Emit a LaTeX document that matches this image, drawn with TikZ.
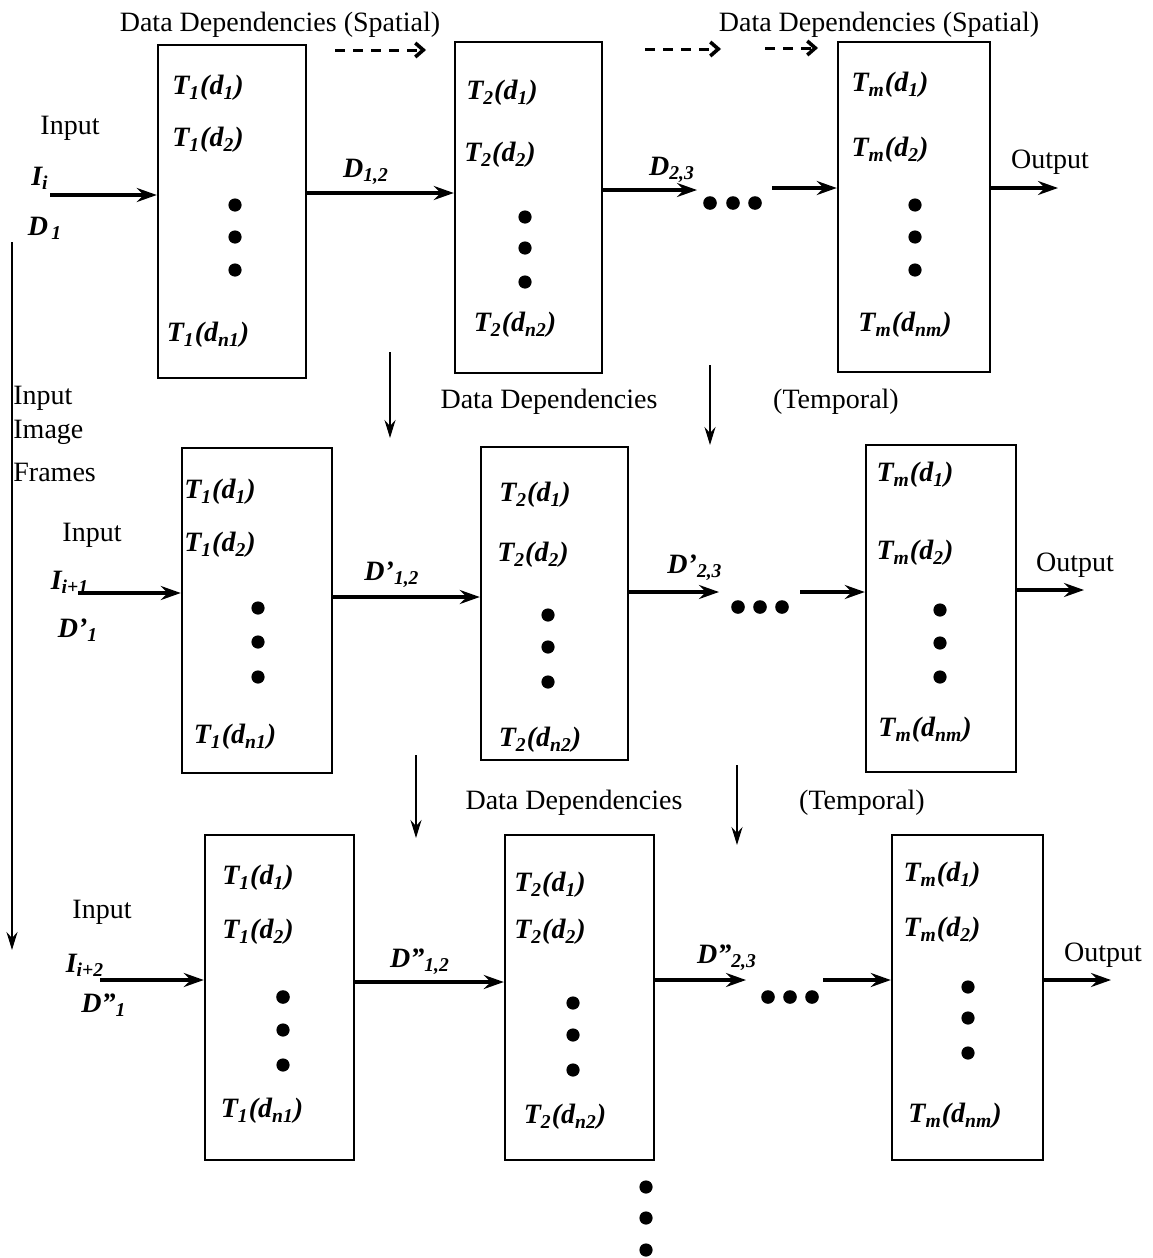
\documentclass[tikz,border=0pt]{standalone}
\usepackage{fontspec}
\setmainfont{Liberation Serif}
\usetikzlibrary{arrows.meta}
\newcommand{\lsub}[1]{\textsubscript{#1}}
\begin{document}
\begin{tikzpicture}[x=0.5pt,y=-0.5pt,
  box/.style={draw, line width=1.2pt, inner sep=0pt},
  txt/.style={inner sep=0pt, font=\fontsize{14pt}{16pt}\selectfont},
  lab/.style={inner sep=0pt, font=\fontsize{14pt}{16pt}\selectfont\bfseries\itshape},
  harr/.style={line width=1.6pt, -{Stealth[length=10pt,width=7pt,inset=3.5pt]}},
  varr/.style={line width=1pt, -{Stealth[length=9pt,width=5.5pt,inset=3pt]}},
  darr/.style={line width=1.5pt, dash pattern=on 5pt off 4pt, -{Straight Barb[length=4pt,width=7pt,line width=1.8pt]}}]

\useasboundingbox (0,0) rectangle (1152,1258);

% ---------- top labels ----------
\node[txt] (sp1) at (280,25) {Data Dependencies (Spatial)};
\node[txt] (sp2) at (879,25) {Data Dependencies (Spatial)};
\coordinate (da1) at (335,50); \coordinate (da1e) at (426,50);
\coordinate (da2) at (645,49); \coordinate (da2e) at (721,49);
\coordinate (da3) at (765,48); \coordinate (da3e) at (818,48);
\draw[darr] (da1) -- (da1e);
\draw[darr] (da2) -- (da2e);
\draw[darr] (da3) -- (da3e);

% ---------- boxes ----------
\node[box, minimum width=74pt, minimum height=166.5pt] (b11) at (232,211.5) {};
\node[box, minimum width=73.5pt, minimum height=165.5pt] (b12) at (528.5,207.5) {};
\node[box, minimum width=76pt, minimum height=165pt] (b13) at (914,207) {};
\node[box, minimum width=75pt, minimum height=162.5pt] (b21) at (257,610.5) {};
\node[box, minimum width=73.5pt, minimum height=156.5pt] (b22) at (554.5,603.5) {};
\node[box, minimum width=75pt, minimum height=163.5pt] (b23) at (941,608.5) {};
\node[box, minimum width=74.5pt, minimum height=162.5pt] (b31) at (279.5,997.5) {};
\node[box, minimum width=74.5pt, minimum height=162.5pt] (b32) at (579.5,997.5) {};
\node[box, minimum width=75.5pt, minimum height=162.5pt] (b33) at (967.5,997.5) {};

% ---------- row 1 ----------
\node[txt] (in1l) at (70,128) {Input};
\node[lab] (ii1) at (40,178) {I\lsub{i}};
\node[lab] (dd1) at (45,228) {D\lsub{\,1}};
\coordinate (in1) at (50,195);
\draw[harr] (in1) -- (in1 -| b11.west);

\node[lab] (t111) at (208,88) {T\lsub{1}(d\lsub{1})};
\node[lab] (t112) at (208,140) {T\lsub{1}(d\lsub{2})};
\node[lab] (t113) at (208,335) {T\lsub{1}(d\lsub{n1})};
\fill (235,205) circle[radius=3.3pt] (235,237) circle[radius=3.3pt] (235,270) circle[radius=3.3pt];

\draw[harr] (b11.east |- 0,193) -- (b12.west |- 0,193);
\node[lab] (d112) at (366,172) {D\lsub{1,2}};

\node[lab] (t121) at (502,93) {T\lsub{2}(d\lsub{1})};
\node[lab] (t122) at (500,155) {T\lsub{2}(d\lsub{2})};
\node[lab] (t123) at (515,325) {T\lsub{2}(d\lsub{n2})};
\fill (525,217) circle[radius=3.3pt] (525,248) circle[radius=3.3pt] (525,282) circle[radius=3.3pt];

\coordinate (e1) at (697,190);
\draw[harr] (b12.east |- e1) -- (e1);
\node[lab] (d123) at (672,170) {D\lsub{2,3}};
\fill (710,203) circle[radius=3.4pt] (733,203) circle[radius=3.4pt] (755,203) circle[radius=3.4pt];
\coordinate (f1) at (772,188);
\draw[harr] (f1) -- (f1 -| b13.west);

\node[lab] (t131) at (890,85) {T\lsub{m}(d\lsub{1})};
\node[lab] (t132) at (890,150) {T\lsub{m}(d\lsub{2})};
\node[lab] (t133) at (905,325) {T\lsub{m}(d\lsub{nm})};
\fill (915,205) circle[radius=3.3pt] (915,237) circle[radius=3.3pt] (915,270) circle[radius=3.3pt];

\coordinate (o1) at (1058,188);
\draw[harr] (b13.east |- o1) -- (o1);
\node[txt] (out1) at (1050,162) {Output};

% ---------- left frames arrow ----------
\coordinate (fr1) at (12,242); \coordinate (fr2) at (12,950);
\draw[varr] (fr1) -- (fr2);
\node[txt, anchor=west] (fa) at (13,398) {Input};
\node[txt, anchor=west] (fb) at (13,432) {Image};
\node[txt, anchor=west] (fc) at (13,472) {Frames};

% ---------- temporal 1-2 ----------
\coordinate (ta1) at (390,352); \coordinate (ta1e) at (390,438);
\coordinate (tb1) at (710,365); \coordinate (tb1e) at (710,445);
\draw[varr] (ta1) -- (ta1e);
\draw[varr] (tb1) -- (tb1e);
\node[txt] (dt1) at (549,402) {Data Dependencies};
\node[txt] (tp1) at (836,402) {(Temporal)};

% ---------- row 2 ----------
\node[txt] (in2l) at (92,535) {Input};
\node[lab] (ii2) at (70,582) {I\lsub{i+1}};
\node[lab] (dd2) at (78,630) {D'\lsub{1}};
\coordinate (in2) at (78,593);
\draw[harr] (in2) -- (in2 -| b21.west);

\node[lab] (t211) at (220,492) {T\lsub{1}(d\lsub{1})};
\node[lab] (t212) at (220,545) {T\lsub{1}(d\lsub{2})};
\node[lab] (t213) at (235,737) {T\lsub{1}(d\lsub{n1})};
\fill (258,608) circle[radius=3.3pt] (258,642) circle[radius=3.3pt] (258,677) circle[radius=3.3pt];

\draw[harr] (b21.east |- 0,597) -- (b22.west |- 0,597);
\node[lab] (d212) at (392,575) {D'\lsub{1,2}};

\node[lab] (t221) at (535,495) {T\lsub{2}(d\lsub{1})};
\node[lab] (t222) at (533,555) {T\lsub{2}(d\lsub{2})};
\node[lab] (t223) at (540,740) {T\lsub{2}(d\lsub{n2})};
\fill (548,615) circle[radius=3.3pt] (548,647) circle[radius=3.3pt] (548,682) circle[radius=3.3pt];

\coordinate (e2) at (719,592);
\draw[harr] (b22.east |- e2) -- (e2);
\node[lab] (d223) at (695,568) {D'\lsub{2,3}};
\fill (738,607) circle[radius=3.4pt] (760,607) circle[radius=3.4pt] (782,607) circle[radius=3.4pt];
\coordinate (f2) at (800,592);
\draw[harr] (f2) -- (f2 -| b23.west);

\node[lab] (t231) at (915,475) {T\lsub{m}(d\lsub{1})};
\node[lab] (t232) at (915,553) {T\lsub{m}(d\lsub{2})};
\node[lab] (t233) at (925,730) {T\lsub{m}(d\lsub{nm})};
\fill (940,610) circle[radius=3.3pt] (940,643) circle[radius=3.3pt] (940,677) circle[radius=3.3pt];

\coordinate (o2) at (1084,590);
\draw[harr] (b23.east |- o2) -- (o2);
\node[txt] (out2) at (1075,565) {Output};

% ---------- temporal 2-3 ----------
\coordinate (ta2) at (416,755); \coordinate (ta2e) at (416,838);
\coordinate (tb2) at (737,765); \coordinate (tb2e) at (737,845);
\draw[varr] (ta2) -- (ta2e);
\draw[varr] (tb2) -- (tb2e);
\node[txt] (dt2) at (574,803) {Data Dependencies};
\node[txt] (tp2) at (862,803) {(Temporal)};

% ---------- row 3 ----------
\node[txt] (in3l) at (102,912) {Input};
\node[lab] (ii3) at (85,965) {I\lsub{i+2}};
\node[lab] (dd3) at (104,1005) {D''\lsub{1}};
\coordinate (in3) at (100,980);
\draw[harr] (in3) -- (in3 -| b31.west);

\node[lab] (t311) at (258,878) {T\lsub{1}(d\lsub{1})};
\node[lab] (t312) at (258,932) {T\lsub{1}(d\lsub{2})};
\node[lab] (t313) at (262,1111) {T\lsub{1}(d\lsub{n1})};
\fill (283,997) circle[radius=3.4pt] (283,1030) circle[radius=3.3pt] (283,1065) circle[radius=3.3pt];

\draw[harr] (b31.east |- 0,982) -- (b32.west |- 0,982);
\node[lab] (d312) at (420,962) {D''\lsub{1,2}};

\node[lab] (t321) at (550,885) {T\lsub{2}(d\lsub{1})};
\node[lab] (t322) at (550,932) {T\lsub{2}(d\lsub{2})};
\node[lab] (t323) at (565,1117) {T\lsub{2}(d\lsub{n2})};
\fill (573,1003) circle[radius=3.3pt] (573,1035) circle[radius=3.3pt] (573,1070) circle[radius=3.3pt];

\coordinate (e3) at (746,980);
\draw[harr] (b32.east |- e3) -- (e3);
\node[lab] (d323) at (727,958) {D''\lsub{2,3}};
\fill (768,997) circle[radius=3.4pt] (790,997) circle[radius=3.4pt] (812,997) circle[radius=3.4pt];
\coordinate (f3) at (823,980);
\draw[harr] (f3) -- (f3 -| b33.west);

\node[lab] (t331) at (942,875) {T\lsub{m}(d\lsub{1})};
\node[lab] (t332) at (942,930) {T\lsub{m}(d\lsub{2})};
\node[lab] (t333) at (955,1116) {T\lsub{m}(d\lsub{nm})};
\fill (968,987) circle[radius=3.3pt] (968,1018) circle[radius=3.3pt] (968,1053) circle[radius=3.3pt];

\coordinate (o3) at (1111,980);
\draw[harr] (b33.east |- o3) -- (o3);
\node[txt] (out3) at (1103,955) {Output};

% ---------- bottom continuation ----------
\fill (646,1187) circle[radius=3.3pt] (646,1218) circle[radius=3.3pt] (646,1250) circle[radius=3.3pt];
\end{tikzpicture}
\end{document}
